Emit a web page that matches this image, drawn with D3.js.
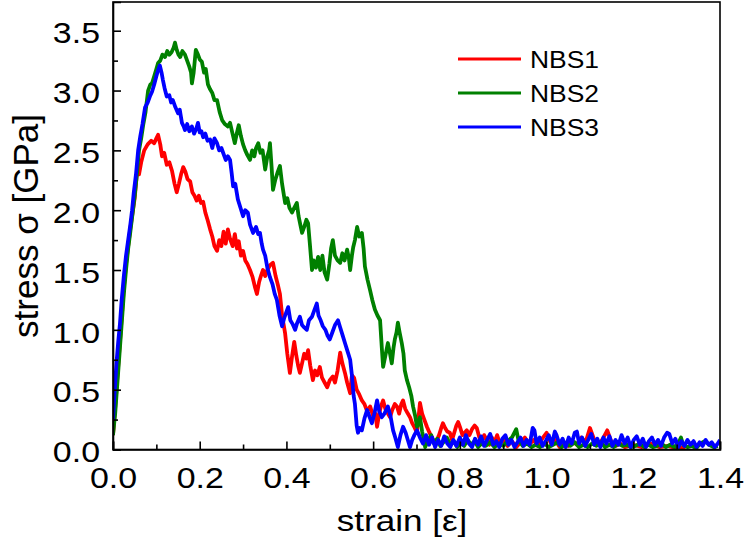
<!DOCTYPE html>
<html>
<head>
<meta charset="utf-8">
<script src="https://cdn.jsdelivr.net/npm/d3@7"></script>
<style>
  body { margin: 0; background: #fff; }
  text { font-family: "Liberation Sans", Arial, sans-serif; fill: #000; }
</style>
</head>
<body>
<div id="chart"></div>
<script>
// strain / stress readings, [strain, stress GPa]
var nbs1 = [[0,0.12],[0.005,0.35],[0.01,0.6],[0.015,0.85],[0.02,1.1],[0.025,1.35],[0.03,1.55],[0.035,1.7],[0.04,1.85],[0.046,2.0],[0.05,2.1],[0.055,2.3],[0.06,2.3],[0.065,2.4],[0.072,2.5],[0.08,2.55],[0.088,2.58],[0.095,2.56],[0.1,2.6],[0.104,2.63],[0.109,2.55],[0.113,2.45],[0.118,2.48],[0.124,2.38],[0.13,2.40],[0.136,2.33],[0.142,2.22],[0.147,2.15],[0.152,2.22],[0.157,2.30],[0.162,2.36],[0.167,2.32],[0.172,2.26],[0.178,2.24],[0.183,2.15],[0.188,2.12],[0.193,2.08],[0.198,2.12],[0.203,2.06],[0.208,2.07],[0.213,1.98],[0.218,1.92],[0.224,1.84],[0.229,1.78],[0.234,1.70],[0.24,1.66],[0.245,1.75],[0.25,1.70],[0.255,1.82],[0.26,1.72],[0.265,1.84],[0.27,1.76],[0.276,1.70],[0.281,1.80],[0.286,1.68],[0.29,1.74],[0.295,1.62],[0.3,1.66],[0.305,1.58],[0.31,1.55],[0.316,1.50],[0.322,1.44],[0.328,1.35],[0.332,1.30],[0.337,1.40],[0.342,1.46],[0.346,1.50],[0.351,1.45],[0.356,1.50],[0.362,1.54],[0.369,1.56],[0.375,1.45],[0.38,1.38],[0.385,1.30],[0.39,1.12],[0.397,0.97],[0.402,0.80],[0.408,0.64],[0.413,0.78],[0.418,0.90],[0.423,0.78],[0.427,0.70],[0.431,0.64],[0.436,0.72],[0.441,0.80],[0.446,0.76],[0.45,0.83],[0.455,0.70],[0.461,0.58],[0.466,0.66],[0.471,0.62],[0.477,0.69],[0.482,0.60],[0.488,0.56],[0.494,0.52],[0.5,0.58],[0.507,0.61],[0.512,0.56],[0.518,0.66],[0.524,0.81],[0.529,0.72],[0.535,0.64],[0.54,0.56],[0.547,0.47],[0.551,0.62],[0.556,0.60],[0.562,0.50],[0.568,0.46],[0.574,0.41],[0.58,0.38],[0.586,0.32],[0.593,0.36],[0.6,0.28],[0.605,0.30],[0.609,0.19],[0.614,0.30],[0.618,0.36],[0.623,0.41],[0.628,0.34],[0.634,0.30],[0.639,0.27],[0.644,0.33],[0.65,0.38],[0.655,0.36],[0.66,0.30],[0.665,0.38],[0.669,0.41],[0.674,0.34],[0.68,0.30],[0.685,0.27],[0.69,0.22],[0.696,0.18],[0.701,0.14],[0.705,0.28],[0.708,0.39],[0.713,0.30],[0.718,0.25],[0.724,0.19],[0.73,0.14],[0.736,0.10],[0.742,0.05],[0.747,0.08],[0.752,0.12],[0.757,0.18],[0.761,0.22],[0.766,0.18],[0.771,0.15],[0.777,0.14],[0.782,0.08],[0.787,0.14],[0.792,0.20],[0.796,0.23],[0.801,0.18],[0.806,0.12],[0.811,0.14],[0.816,0.16],[0.822,0.12],[0.828,0.17],[0.834,0.20],[0.839,0.18],[0.845,0.10],[0.85,0.06],[0.856,0.12],[0.862,0.08],[0.868,0.04],[0.874,0.10],[0.88,0.06],[0.886,0.12],[0.892,0.05],[0.9,0.08],[0.91,0.03],[0.92,0.07],[0.93,0.02],[0.94,0.06],[0.95,0.10],[0.96,0.04],[0.97,0.08],[0.98,0.03],[0.99,0.09],[1.0,0.14],[1.01,0.05],[1.02,0.08],[1.03,0.02],[1.04,0.06],[1.05,0.03],[1.06,0.07],[1.07,0.04],[1.08,0.10],[1.09,0.06],[1.1,0.18],[1.11,0.08],[1.12,0.04],[1.13,0.09],[1.14,0.16],[1.15,0.06],[1.16,0.03],[1.17,0.05],[1.18,0.02],[1.2,0.04],[1.22,0.02],[1.24,0.05],[1.26,0.02],[1.28,0.03],[1.3,0.01],[1.32,0.02]];

var nbs2 = [[0,0.12],[0.005,0.3],[0.01,0.55],[0.015,0.8],[0.02,1.05],[0.025,1.3],[0.03,1.5],[0.035,1.68],[0.04,1.82],[0.046,2.0],[0.05,2.12],[0.055,2.3],[0.06,2.5],[0.065,2.6],[0.07,2.72],[0.075,2.82],[0.081,3.0],[0.086,3.05],[0.09,3.06],[0.095,3.12],[0.1,3.18],[0.104,3.23],[0.109,3.25],[0.114,3.30],[0.12,3.28],[0.125,3.33],[0.13,3.30],[0.135,3.32],[0.14,3.36],[0.143,3.40],[0.147,3.34],[0.151,3.30],[0.155,3.28],[0.16,3.33],[0.166,3.30],[0.171,3.25],[0.176,3.20],[0.18,3.15],[0.182,3.06],[0.186,3.15],[0.191,3.34],[0.196,3.30],[0.2,3.26],[0.205,3.24],[0.21,3.15],[0.214,3.18],[0.219,3.05],[0.224,3.01],[0.229,2.98],[0.234,2.92],[0.24,2.92],[0.246,2.82],[0.252,2.75],[0.258,2.72],[0.265,2.70],[0.27,2.73],[0.275,2.65],[0.281,2.56],[0.286,2.65],[0.29,2.71],[0.295,2.62],[0.3,2.55],[0.305,2.50],[0.31,2.46],[0.316,2.42],[0.321,2.50],[0.326,2.45],[0.33,2.52],[0.335,2.56],[0.34,2.48],[0.345,2.50],[0.351,2.34],[0.356,2.45],[0.36,2.50],[0.362,2.56],[0.366,2.35],[0.369,2.17],[0.374,2.25],[0.38,2.32],[0.385,2.37],[0.39,2.22],[0.397,2.06],[0.402,2.10],[0.407,2.02],[0.413,1.98],[0.418,2.02],[0.424,2.06],[0.428,1.95],[0.432,1.88],[0.436,1.81],[0.441,1.86],[0.446,1.92],[0.45,1.89],[0.454,1.72],[0.459,1.50],[0.463,1.58],[0.468,1.52],[0.473,1.61],[0.478,1.50],[0.483,1.62],[0.488,1.48],[0.494,1.42],[0.499,1.55],[0.503,1.68],[0.507,1.75],[0.512,1.62],[0.518,1.58],[0.524,1.56],[0.529,1.64],[0.534,1.58],[0.54,1.67],[0.544,1.60],[0.547,1.50],[0.551,1.62],[0.554,1.69],[0.558,1.75],[0.563,1.86],[0.568,1.78],[0.574,1.81],[0.578,1.68],[0.581,1.53],[0.587,1.42],[0.593,1.33],[0.598,1.25],[0.604,1.17],[0.61,1.12],[0.616,1.08],[0.62,0.85],[0.623,0.69],[0.628,0.78],[0.634,0.89],[0.639,0.80],[0.643,0.72],[0.647,0.85],[0.65,0.92],[0.654,0.98],[0.657,1.06],[0.661,0.98],[0.666,0.89],[0.67,0.80],[0.673,0.66],[0.678,0.58],[0.683,0.52],[0.688,0.45],[0.692,0.36],[0.697,0.28],[0.701,0.19],[0.705,0.22],[0.708,0.27],[0.713,0.15],[0.72,0.02],[0.727,0.08],[0.734,0.12],[0.74,0.05],[0.748,0.09],[0.755,0.03],[0.762,0.06],[0.77,0.10],[0.778,0.04],[0.786,0.07],[0.794,0.02],[0.802,0.06],[0.81,0.03],[0.818,0.08],[0.826,0.04],[0.834,0.07],[0.842,0.02],[0.85,0.05],[0.86,0.03],[0.87,0.06],[0.88,0.02],[0.89,0.05],[0.9,0.03],[0.91,0.07],[0.92,0.10],[0.93,0.17],[0.935,0.08],[0.945,0.03],[0.955,0.05],[0.965,0.02],[0.975,0.04],[0.985,0.02],[0.995,0.05],[1.005,0.02],[1.015,0.04],[1.025,0.06],[1.035,0.02],[1.045,0.05],[1.055,0.03],[1.065,0.06],[1.075,0.02],[1.085,0.04],[1.095,0.02],[1.105,0.05],[1.115,0.03],[1.125,0.06],[1.135,0.02],[1.145,0.04],[1.155,0.02],[1.165,0.05],[1.175,0.03],[1.185,0.04],[1.195,0.02],[1.205,0.03],[1.215,0.05],[1.225,0.02],[1.235,0.04],[1.245,0.02],[1.255,0.03],[1.265,0.05],[1.275,0.02],[1.285,0.04],[1.295,0.02],[1.305,0.06],[1.31,0.10],[1.315,0.04],[1.325,0.02],[1.335,0.03],[1.345,0.01],[1.355,0.05],[1.365,0.07],[1.375,0.04],[1.385,0.02],[1.395,0.03]];

var nbs3 = [[0,0.25],[0.004,0.5],[0.008,0.72],[0.012,0.9],[0.016,1.05],[0.02,1.25],[0.025,1.45],[0.03,1.62],[0.035,1.75],[0.04,1.88],[0.044,2.0],[0.048,2.15],[0.053,2.3],[0.058,2.5],[0.063,2.62],[0.068,2.72],[0.074,2.86],[0.08,2.9],[0.085,2.95],[0.09,2.99],[0.095,3.05],[0.1,3.12],[0.104,3.17],[0.108,3.21],[0.112,3.15],[0.115,3.09],[0.119,3.02],[0.124,2.95],[0.13,2.96],[0.134,2.90],[0.138,2.92],[0.144,2.86],[0.15,2.81],[0.154,2.84],[0.159,2.73],[0.163,2.70],[0.166,2.67],[0.171,2.72],[0.176,2.66],[0.182,2.70],[0.187,2.64],[0.192,2.68],[0.196,2.73],[0.2,2.65],[0.204,2.66],[0.208,2.61],[0.213,2.64],[0.218,2.58],[0.224,2.59],[0.229,2.52],[0.234,2.60],[0.24,2.56],[0.245,2.50],[0.25,2.52],[0.254,2.48],[0.26,2.42],[0.265,2.45],[0.27,2.42],[0.274,2.30],[0.277,2.20],[0.282,2.22],[0.288,2.09],[0.294,2.02],[0.3,1.95],[0.305,2.00],[0.311,1.98],[0.316,1.88],[0.323,1.81],[0.33,1.86],[0.335,1.80],[0.339,1.81],[0.343,1.72],[0.346,1.67],[0.351,1.62],[0.356,1.52],[0.362,1.44],[0.368,1.38],[0.373,1.30],[0.378,1.25],[0.384,1.12],[0.39,1.03],[0.395,1.10],[0.4,1.15],[0.404,1.19],[0.409,1.08],[0.414,1.05],[0.42,1.00],[0.425,1.06],[0.431,1.11],[0.436,1.04],[0.441,1.02],[0.447,1.00],[0.452,1.08],[0.459,1.11],[0.464,1.16],[0.47,1.22],[0.474,1.12],[0.479,1.08],[0.484,1.03],[0.49,1.00],[0.495,0.95],[0.5,0.92],[0.506,0.98],[0.512,1.04],[0.519,1.08],[0.524,1.02],[0.53,0.95],[0.535,0.89],[0.541,0.82],[0.547,0.75],[0.551,0.62],[0.555,0.45],[0.558,0.38],[0.562,0.20],[0.565,0.14],[0.569,0.18],[0.574,0.16],[0.58,0.26],[0.586,0.33],[0.591,0.28],[0.597,0.22],[0.603,0.30],[0.609,0.41],[0.614,0.32],[0.62,0.27],[0.626,0.30],[0.634,0.36],[0.64,0.28],[0.646,0.16],[0.651,0.10],[0.657,0.02],[0.663,0.12],[0.669,0.19],[0.675,0.14],[0.68,0.08],[0.685,0.02],[0.69,0.08],[0.695,0.12],[0.701,0.16],[0.708,0.10],[0.715,0.05],[0.722,0.12],[0.729,0.04],[0.736,0.10],[0.743,0.02],[0.75,0.08],[0.757,0.03],[0.764,0.11],[0.771,0.05],[0.778,0.02],[0.785,0.08],[0.792,0.03],[0.8,0.10],[0.807,0.04],[0.814,0.12],[0.821,0.05],[0.828,0.02],[0.835,0.09],[0.842,0.04],[0.849,0.11],[0.856,0.03],[0.863,0.08],[0.87,0.13],[0.877,0.04],[0.884,0.07],[0.891,0.02],[0.898,0.09],[0.905,0.12],[0.912,0.04],[0.919,0.08],[0.926,0.02],[0.933,0.06],[0.94,0.10],[0.947,0.03],[0.954,0.08],[0.961,0.04],[0.968,0.18],[0.972,0.16],[0.977,0.05],[0.984,0.10],[0.991,0.03],[0.998,0.07],[1.005,0.12],[1.012,0.04],[1.019,0.15],[1.023,0.12],[1.03,0.04],[1.037,0.09],[1.044,0.02],[1.051,0.10],[1.058,0.05],[1.065,0.14],[1.07,0.15],[1.075,0.05],[1.082,0.10],[1.089,0.03],[1.096,0.08],[1.103,0.13],[1.11,0.04],[1.117,0.09],[1.124,0.02],[1.131,0.10],[1.138,0.05],[1.145,0.11],[1.152,0.03],[1.159,0.08],[1.166,0.04],[1.173,0.12],[1.18,0.05],[1.187,0.10],[1.194,0.02],[1.201,0.08],[1.208,0.11],[1.215,0.04],[1.222,0.09],[1.229,0.02],[1.236,0.07],[1.243,0.10],[1.25,0.04],[1.257,0.08],[1.264,0.03],[1.271,0.10],[1.278,0.14],[1.283,0.13],[1.29,0.05],[1.297,0.09],[1.304,0.02],[1.311,0.07],[1.318,0.03],[1.325,0.08],[1.332,0.04],[1.339,0.07],[1.346,0.02],[1.353,0.06],[1.36,0.03],[1.367,0.08],[1.374,0.04],[1.381,0.06],[1.388,0.02],[1.395,0.05],[1.4,0.08]];

var seriesNames = ["NBS1", "NBS2", "NBS3"];
var seriesColors = ["#ff0000", "#008000", "#0000ff"];
var xTicks = [0, 0.2, 0.4, 0.6, 0.8, 1.0, 1.2, 1.4];
var xMinor = [0.1, 0.3, 0.5, 0.7, 0.9, 1.1, 1.3];
var yTicks = [0, 0.5, 1.0, 1.5, 2.0, 2.5, 3.0, 3.5];
var yMinor = [0.25, 0.75, 1.25, 1.75, 2.25, 2.75, 3.25];

var svgWidth = 748, svgHeight = 544;
var margin = { top: 2, right: 28, bottom: 94.5, left: 113 };
var width = svgWidth - margin.left - margin.right;
var height = svgHeight - margin.top - margin.bottom;
var stretch = 1.17;   // labels in the original look a bit wide

var svg = d3.select("#chart")
  .append("svg")
  .attr("width", svgWidth)
  .attr("height", svgHeight);

var g = svg.append("g")
  .attr("transform", "translate(" + margin.left + "," + margin.top + ")");

var x = d3.scaleLinear().domain([0, 1.4]).range([0, width]);
var y = d3.scaleLinear().domain([0, 3.74]).range([height, 0]);

g.append("clipPath").attr("id", "plotClip")
  .append("rect")
  .attr("width", width)
  .attr("height", height);

var line = d3.line()
  .x(function(d) { return x(d[0]); })
  .y(function(d) { return y(d[1]); });

var allSeries = [nbs1, nbs2, nbs3];
allSeries.forEach(function(s, i) {
  g.append("path")
    .datum(s)
    .attr("clip-path", "url(#plotClip)")
    .attr("fill", "none")
    .attr("stroke", seriesColors[i])
    .attr("stroke-width", 3.8)
    .attr("stroke-linejoin", "round")
    .attr("d", line);
});

// frame
g.append("rect")
  .attr("width", width)
  .attr("height", height)
  .attr("fill", "none")
  .attr("stroke", "#000")
  .attr("stroke-width", 1.6);

// x axis, ticks pointing in
var xAxis = g.append("g")
  .attr("transform", "translate(0," + height + ")")
  .call(d3.axisBottom(x).tickValues(xTicks).tickSize(-8).tickFormat(d3.format(".1f")));
g.append("g")
  .attr("transform", "translate(0," + height + ")")
  .call(d3.axisBottom(x).tickValues(xMinor).tickSize(-5).tickFormat(""))
  .select(".domain").remove();

xAxis.selectAll("text")
  .attr("y", 18)
  .attr("dy", "0.71em")
  .attr("transform", "scale(" + stretch + ",1)")
  .style("font-size", "29px");

var yAxis = g.append("g")
  .call(d3.axisLeft(y).tickValues(yTicks).tickSize(-8).tickFormat(d3.format(".1f")));
g.append("g")
  .call(d3.axisLeft(y).tickValues(yMinor).tickSize(-5).tickFormat(""))
  .select(".domain").remove();

yAxis.selectAll("text")
  .attr("x", -13 / stretch)
  .attr("dy", "0.42em")
  .attr("transform", "scale(" + stretch + ",1)")
  .style("font-size", "29px");

g.selectAll(".domain").attr("stroke-width", 1.6);
g.selectAll(".tick line").attr("stroke-width", 1.6);
g.selectAll(".tick text").attr("font-family", null);

// axis titles
svg.append("text")
  .attr("transform", "translate(402,531) scale(" + stretch + ",1)")
  .attr("text-anchor", "middle")
  .style("font-size", "30px")
  .text("strain [ε]");

svg.append("text")
  .attr("transform", "translate(38,226) rotate(-90)")
  .attr("text-anchor", "middle")
  .style("font-size", "35px")
  .text("stress σ [GPa]");

// legend
var legend = svg.append("g").attr("class", "legend");
seriesNames.forEach(function(name, i) {
  var ly = 59 + i * 34;
  legend.append("line")
    .attr("x1", 458).attr("x2", 521)
    .attr("y1", ly).attr("y2", ly)
    .attr("stroke", seriesColors[i])
    .attr("stroke-width", 3);
  legend.append("text")
    .attr("transform", "translate(530," + (ly + 9) + ") scale(1.15,1)")
    .style("font-size", "23px")
    .text(name);
});
</script>
</body>
</html>
